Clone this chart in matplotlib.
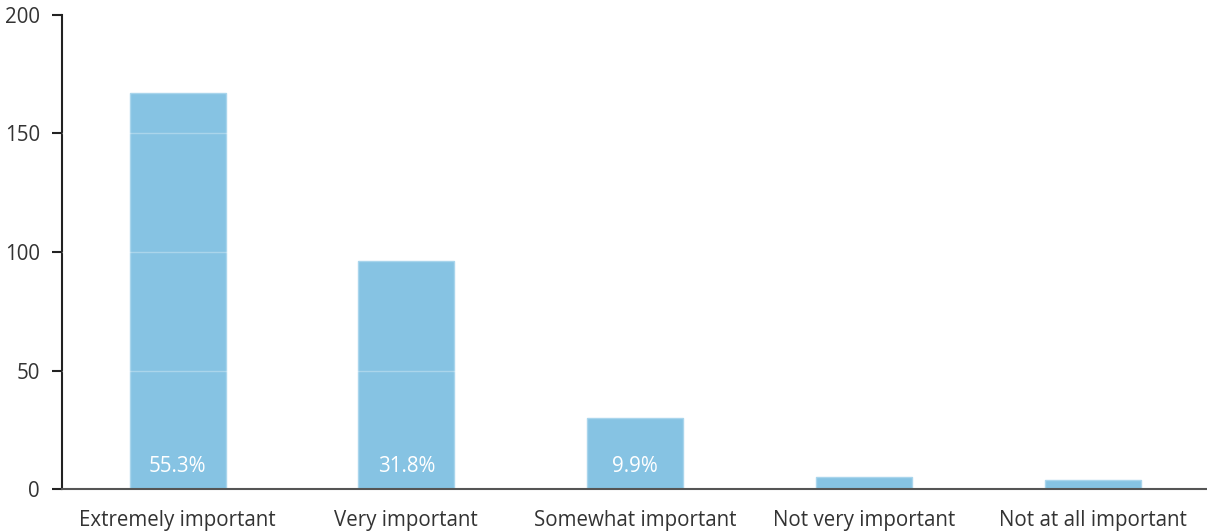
import matplotlib.pyplot as plt
import numpy as np

# survey answers and counts
categories = ['Extremely important', 'Very important', 'Somewhat important',
              'Not very important', 'Not at all important']
counts = [167, 96, 30, 5, 4]
shown_pct = [True, True, True, False, False]

plt.rcParams['font.family'] = ['Open Sans', 'DejaVu Sans']

total = sum(counts)
pct = [100.0 * c / total for c in counts]

fig = plt.figure(figsize=(12.07, 5.31), dpi=100)
ax = fig.add_axes([0.0514, 0.079, 0.9486, 0.8928])

x = np.arange(len(categories))
ax.bar(x, counts, width=0.42, color='#86c3e3', edgecolor='#a9d5ec',
       linewidth=1, zorder=2)

# faint white grid lines that only show up over the bars
for yv in [50, 100, 150]:
    ax.axhline(yv, color='white', alpha=0.3, linewidth=1, zorder=3)

for xi, p, show in zip(x, pct, shown_pct):
    if show:
        ax.text(xi, 9.5, f'{p:.1f}%', color='white', ha='center', va='center',
                fontsize=14.8, zorder=4)

ax.set_xlim(-0.505, 4.5)
ax.set_ylim(0, 200)
ax.set_yticks([0, 50, 100, 150, 200])
ax.set_xticks(x)
ax.set_xticklabels(categories)

ax.spines['top'].set_visible(False)
ax.spines['right'].set_visible(False)
ax.spines['left'].set_color('#222222')
ax.spines['left'].set_linewidth(1.5)
ax.spines['bottom'].set_color('#555555')
ax.spines['bottom'].set_linewidth(1.5)

ax.tick_params(axis='y', length=7, width=1.5, color='#222222', labelsize=14.8,
               labelcolor='#333333', pad=9)
ax.tick_params(axis='x', length=0, labelsize=14.8, labelcolor='#333333', pad=15)

plt.savefig('out.png', dpi=100)
